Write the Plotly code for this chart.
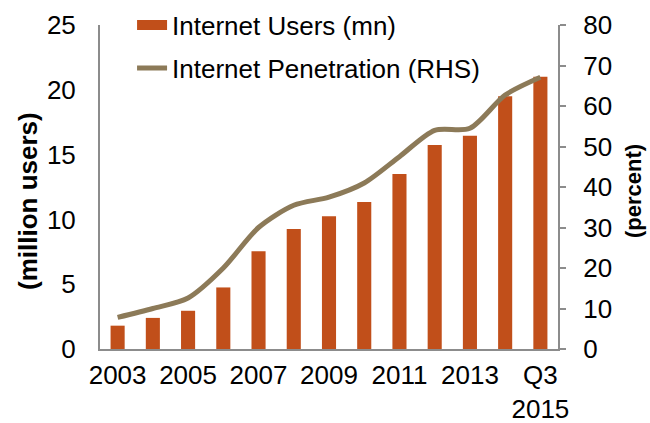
import plotly.graph_objects as go

categories = ["2003", "2004", "2005", "2006", "2007", "2008", "2009", "2010",
              "2011", "2012", "2013", "2014", "Q3 2015"]
users_mn = [1.8, 2.4, 2.95, 4.75, 7.55, 9.25, 10.25, 11.35, 13.5, 15.75, 16.45, 19.5, 21.0]
penetration_pct = [7.8, 10.0, 12.6, 20.0, 30.0, 35.5, 37.5, 41.0, 47.5, 54.0, 54.5, 62.7, 67.1]
tick_labels = ["2003", "", "2005", "", "2007", "", "2009", "", "2011", "", "2013", "", "Q3<br>2015"]

FONT = "Liberation Sans, Arial, sans-serif"
FS = 26
BAR_COLOR = "#C14F1A"
LINE_COLOR = "#8C7A58"
AXIS_COLOR = "#8C8C8C"

fig = go.Figure()
fig.add_trace(go.Bar(
    x=categories, y=users_mn, name="Internet Users (mn)",
    marker=dict(color=BAR_COLOR, line=dict(width=0)),
    showlegend=False,
))
# legend proxy so the bar key is drawn as a wide block, as in the original
fig.add_trace(go.Scatter(
    x=[None], y=[None], name="Internet Users (mn)", mode="lines",
    line=dict(color=BAR_COLOR, width=13), legend="legend", hoverinfo="skip",
))
fig.add_trace(go.Scatter(
    x=categories, y=penetration_pct, name="Internet Penetration (RHS)",
    mode="lines", line=dict(color=LINE_COLOR, width=5, shape="spline", smoothing=0.8),
    yaxis="y2", legend="legend2",
))

fig.update_layout(
    width=650, height=423,
    margin=dict(l=100, r=92, t=25, b=74, autoexpand=False),
    paper_bgcolor="white", plot_bgcolor="white",
    font=dict(family=FONT, size=FS, color="black"),
    bargap=0.6,
    xaxis=dict(
        type="category", tickmode="array", tickvals=categories, ticktext=tick_labels,
        range=[-0.5, 12.5], showline=True, linecolor=AXIS_COLOR, linewidth=2,
        ticks="", showgrid=False, tickangle=0, tickfont=dict(size=FS), automargin=False,
        ticklabelstandoff=2,
    ),
    yaxis=dict(
        range=[0, 25], dtick=5, showline=True, linecolor=AXIS_COLOR, linewidth=2,
        ticks="", showgrid=False, zeroline=False, tickfont=dict(size=FS),
        ticklabelstandoff=17, automargin=False,
    ),
    yaxis2=dict(
        range=[0, 80], dtick=10, overlaying="y", side="right", showline=True,
        linecolor=AXIS_COLOR, linewidth=2, ticks="outside", ticklen=6,
        tickcolor=AXIS_COLOR, tickwidth=2, showgrid=False, zeroline=False,
        tickfont=dict(size=FS), ticklabelstandoff=12, automargin=False,
    ),
    legend=dict(x=0.07, y=1 - 25 / 423, xref="paper", yref="container",
                xanchor="left", yanchor="middle",
                bgcolor="rgba(0,0,0,0)", font=dict(size=FS)),
    legend2=dict(x=0.07, y=1 - 68 / 423, xref="paper", yref="container",
                 xanchor="left", yanchor="middle",
                 bgcolor="rgba(0,0,0,0)", font=dict(size=FS)),
    showlegend=True,
    annotations=[
        dict(text="<b>(million users)</b>", xref="paper", yref="paper",
             x=-0.1572, y=0.4568, xanchor="center", yanchor="middle",
             textangle=-90, showarrow=False, font=dict(size=FS)),
        dict(text="<b>(percent)</b>", xref="paper", yref="paper",
             x=1.1659, y=0.4877, xanchor="center", yanchor="middle",
             textangle=-90, showarrow=False, font=dict(size=22)),
    ],
)

fig.write_html("out.html", config={"displayModeBar": False},
               post_script="document.body.style.margin='0px';")
